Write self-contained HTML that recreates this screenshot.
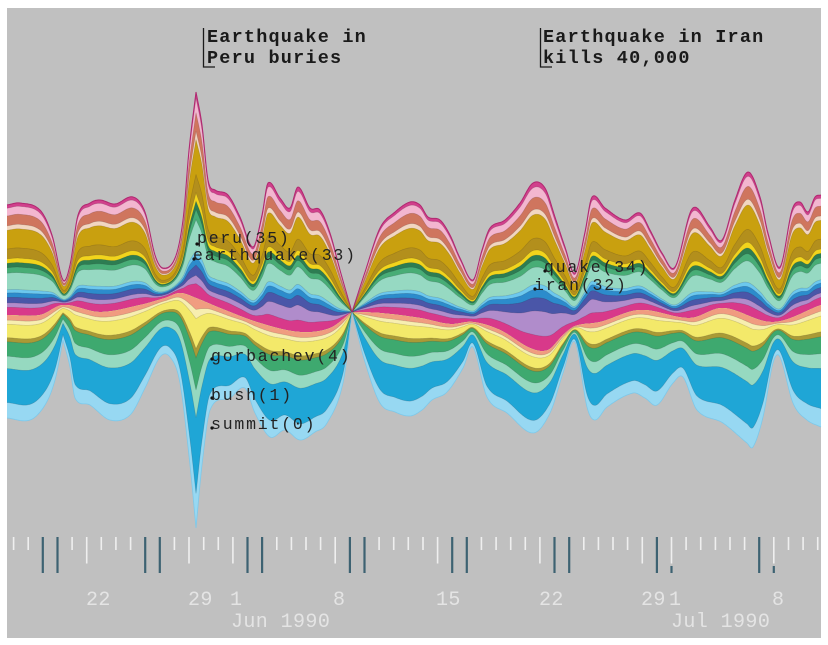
<!DOCTYPE html>
<html><head><meta charset="utf-8">
<style>
html,body{margin:0;padding:0;background:#fff;}
svg{display:block;}
.ann{font-family:"Liberation Mono",monospace;font-size:18.5px;font-weight:bold;letter-spacing:1.2px;fill:#1a1a1a;}
.lab{font-family:"Liberation Mono",monospace;font-size:16.5px;letter-spacing:1.8px;fill:#222;}
.tk{font-family:"Liberation Mono",monospace;font-size:20px;letter-spacing:0.4px;fill:#e4e4e4;}
</style></head>
<body>
<svg id="s" width="828" height="645" viewBox="0 0 828 645" xmlns="http://www.w3.org/2000/svg">
<rect width="828" height="645" fill="#fff"/>
<rect x="7" y="8" width="814" height="630" fill="#c0c0c0"/>
<g id="stream"></g>
<g id="ticks"></g>
<path d="M203.5 28 V67 H215" fill="none" stroke="#1a1a1a" stroke-width="1.3"/>
<text class="ann" x="207" y="42">Earthquake in</text>
<text class="ann" x="207" y="63">Peru buries</text>
<path d="M540.5 28 V67 H552" fill="none" stroke="#1a1a1a" stroke-width="1.3"/>
<text class="ann" x="543" y="42">Earthquake in Iran</text>
<text class="ann" x="543" y="63">kills 40,000</text>
<g fill="#111">
<circle cx="197" cy="244" r="1.6"/><circle cx="194" cy="259" r="1.6"/>
<circle cx="212" cy="359" r="1.6"/><circle cx="212" cy="398" r="1.6"/><circle cx="212" cy="428" r="1.6"/>
<circle cx="545" cy="271" r="1.6"/><circle cx="535" cy="289" r="1.6"/>
</g>
<text class="lab" x="197" y="243">peru(35)</text>
<text class="lab" x="193" y="260">earthquake(33)</text>
<text class="lab" x="211" y="361">gorbachev(4)</text>
<text class="lab" x="211" y="400">bush(1)</text>
<text class="lab" x="211" y="429">summit(0)</text>
<text class="lab" x="544" y="272">quake(34)</text>
<text class="lab" x="534" y="290">iran(32)</text>
<text class="tk" x="86" y="605">22</text>
<text class="tk" x="188" y="605">29</text>
<text class="tk" x="230" y="605">1</text>
<text class="tk" x="333" y="605">8</text>
<text class="tk" x="436" y="605">15</text>
<text class="tk" x="539" y="605">22</text>
<text class="tk" x="641" y="605">29</text>
<text class="tk" x="669" y="605">1</text>
<text class="tk" x="772" y="605">8</text>
<text class="tk" x="231" y="627">Jun 1990</text>
<text class="tk" x="671" y="627">Jul 1990</text>
</svg>
<script>
(function(){
var NS="http://www.w3.org/2000/svg";
var T=[[7,205],[20,203],[40,210],[52,235],[63,280],[70,265],[78,215],[90,203],[100,200],[115,204],[133,197],[145,212],[155,255],[163,268],[175,258],[183,220],[189,150],[196,92,1],[202,125],[208,180],[215,190],[228,195],[240,217],[253,247],[262,215],[268,183],[280,198],[290,208],[298,187],[310,208],[320,210],[330,233],[340,270],[352,312,1],[365,272],[380,228],[395,212],[410,202],[420,205],[428,217],[440,220],[450,235],[460,258],[473,280],[482,250],[490,228],[505,220],[520,203],[533,183],[545,188],[555,217],[565,247],[575,273],[585,232],[592,197],[605,208],[625,220],[640,213],[650,230],[662,253],[675,267],[690,213],[697,208],[710,227],[722,240],[735,200],[748,172],[760,197],[768,233],[780,267],[792,210],[800,202],[808,212],[815,197],[821,195]];
var B=[[7,418],[30,420],[45,405],[55,380],[63,340,1],[70,367],[75,398],[90,405],[110,420],[130,415],[145,388],[160,357],[170,357],[180,383],[190,465],[196,528,1],[202,465],[210,410],[230,398],[245,388],[255,413],[270,437],[285,430],[300,440],[315,432],[327,423],[343,383],[352,312,1],[365,362],[380,403],[395,412],[410,416],[422,410],[432,400],[447,392],[463,368],[473,347],[487,397],[507,413],[533,433],[550,413],[563,373],[575,342],[587,407],[595,420],[607,407],[633,393],[645,398],[657,405],[673,383],[683,377],[697,410],[723,423],[747,443],[753,447],[763,417],[773,363],[780,357],[793,403],[807,420],[821,427]];
var C=[[7,315],[40,315],[63,305],[100,312],[140,305],[165,298],[180,293],[196,298],[220,308],[260,323],[300,332],[330,328],[352,312,1],[380,313],[420,318],[450,324],[473,322],[500,330],[530,348],[548,350],[563,335],[575,326],[600,322],[640,310],[690,318],[723,308],[773,322],[821,305]];
function curve(p){
  var n=p.length,ml=[],mr=[];
  for(var i=0;i<n;i++){
    var sl=i>0?(p[i][1]-p[i-1][1])/(p[i][0]-p[i-1][0]):null;
    var sr=i<n-1?(p[i+1][1]-p[i][1])/(p[i+1][0]-p[i][0]):null;
    if(sl===null)sl=sr; if(sr===null)sr=sl;
    if(p[i][2]){ml[i]=sl;mr[i]=sr;}
    else{var c=(i>0&&i<n-1)?(p[i+1][1]-p[i-1][1])/(p[i+1][0]-p[i-1][0]):sl;ml[i]=mr[i]=c;}
  }
  return function(x){
    var i=0;while(i<n-2&&x>p[i+1][0])i++;
    var x0=p[i][0],x1=p[i+1][0],y0=p[i][1],y1=p[i+1][1],h=x1-x0;
    var t=(x-x0)/h;t=Math.max(0,Math.min(1,t));
    var t2=t*t,t3=t2*t;
    return (2*t3-3*t2+1)*y0+(t3-2*t2+t)*h*mr[i]+(-2*t3+3*t2)*y1+(t3-t2)*h*ml[i+1];
  };
}
var Tf=curve(T),Cf=curve(C),Bf=curve(B);
var xs=[];for(var x=7;x<=821;x+=1)xs.push(x);
var tv=[],cv=[],bv=[],wv=[];
for(var i=0;i<xs.length;i++){
  var t=Tf(xs[i]),b=Bf(xs[i]),c=Cf(xs[i]);
  if(b<t){var m=(t+b)/2;t=m;b=m;}
  c=Math.min(Math.max(c,t),b);
  tv.push(t);cv.push(c);bv.push(b);
  var X=xs[i];
  var w=Math.exp(-Math.pow((X-550)/60,2));
  w=Math.max(w,0.6*Math.exp(-Math.pow((X-290)/40,2)));
  wv.push(w);
}
var up=[[0,"#d1408c"],[0.03,"#f3b6d0"],[0.10,"#cf755e"],[0.19,"#f2d6c0"],[0.23,"#c9a00f"],[0.40,"#b38f1c"],[0.49,"#f2d41c"],[0.53,"#2d7d52"],[0.57,"#48ad76"],[0.62,"#96d9c2"],[0.77,"#6cc8ee"],[0.80,"#2c8ccc"],[0.84,"#4a56a8"],[0.89,"#b08ccb"],[0.93,"#d8398a"]];
var heavy=[0,0.03,0.09,0.16,0.19,0.33,0.40,0.43,0.46,0.50,0.60,0.63,0.68,0.76,0.91];
var lo=[[0,"#f09c80"],[0.05,"#f7eeb0"],[0.09,"#f3e96a"],[0.22,"#a99a36"],[0.26,"#3ea96f"],[0.40,"#96d9c0"],[0.52,"#1fa6d6"],[0.85,"#97d8f2"]];
var g=document.getElementById("stream");
function bndU(k){var r=[];for(var i=0;i<xs.length;i++){var f=up[k][0]*(1-wv[i])+heavy[k]*wv[i];r.push(tv[i]+f*(cv[i]-tv[i]));}return r;}
function bndL(f){var r=[];for(var i=0;i<xs.length;i++){r.push(cv[i]+f*(bv[i]-cv[i]));}return r;}
function pathBetween(a,b){
  var d="M"+xs[0]+" "+a[0].toFixed(1);
  for(var i=1;i<xs.length;i++)d+="L"+xs[i]+" "+a[i].toFixed(1);
  for(var j=xs.length-1;j>=0;j--)d+="L"+xs[j]+" "+b[j].toFixed(1);
  return d+"Z";
}
function linePath(a){
  var d="M"+xs[0]+" "+a[0].toFixed(1);
  for(var i=1;i<xs.length;i++)d+="L"+xs[i]+" "+a[i].toFixed(1);
  return d;
}
function add(d,fill,stroke,sw){
  var p=document.createElementNS(NS,"path");p.setAttribute("d",d);
  p.setAttribute("fill",fill||"none");
  if(stroke){p.setAttribute("stroke",stroke);p.setAttribute("stroke-width",sw);}
  g.appendChild(p);
}
for(var k=0;k<up.length;k++){
  add(pathBetween(bndU(k),cv),up[k][1]);
}
for(var k=lo.length-1;k>=0;k--){
  var nb=k<lo.length-1?lo[k+1][0]:1;
  add(pathBetween(cv,bndL(nb)),lo[k][1]);
}
for(var k=1;k<up.length;k++)add(linePath(bndU(k)),null,"rgba(40,30,40,0.18)",0.7);
for(var k=1;k<lo.length;k++)add(linePath(bndL(lo[k][0])),null,"rgba(40,30,40,0.18)",0.7);
add(linePath(tv),null,"#b02870",1);
add(linePath(bv),null,"rgba(120,200,235,0.9)",0.8);
var tg=document.getElementById("ticks");
var dark={"-3":1,"-2":1,"4":1,"5":1,"11":1,"12":1,"18":1,"19":1,"25":1,"26":1,"32":1,"33":1,"39":1,"46":1};
var lab={"0":1,"7":1,"10":1,"17":1,"24":1,"31":1,"38":1,"40":1,"47":1};
function ln(x,y1,y2,col,w){var l=document.createElementNS(NS,"line");l.setAttribute("x1",x);l.setAttribute("x2",x);l.setAttribute("y1",y1);l.setAttribute("y2",y2);l.setAttribute("stroke",col);l.setAttribute("stroke-width",w);tg.appendChild(l);}
for(var d=-5;d<=50;d++){
  var xx=(86.7+14.62*d).toFixed(1);
  if(dark[d]) ln(xx,537,573,"#3d6272",2.2);
  else if(lab[d]){ ln(xx,537,563.5,"#efefef",1.6); if(d===40||d===47) ln(xx,566,573,"#3d6272",2.2); }
  else ln(xx,537,550,"#efefef",1.6);
}
})();
</script>
</body></html>
